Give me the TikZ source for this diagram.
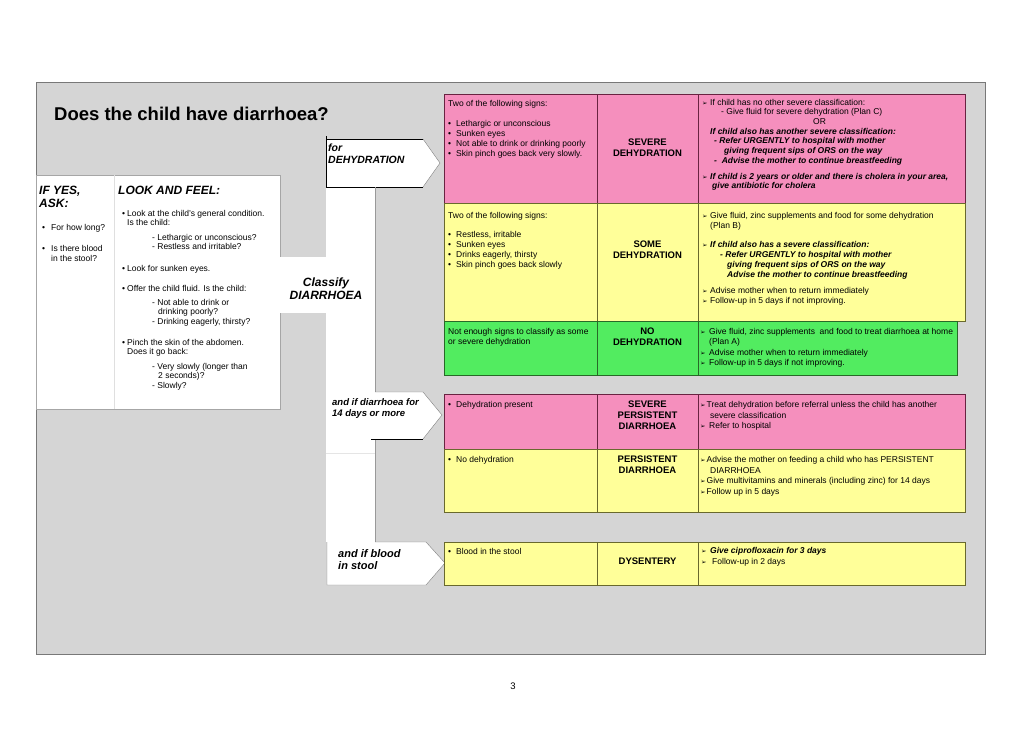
\documentclass[tikz,border=0pt]{standalone}
\usepackage{fontspec}
\setmainfont{Liberation Sans}
\newfontfamily\dejavu{DejaVu Sans}
\usepackage{tikz}
\definecolor{imci-grey}{RGB}{213,213,213}
\definecolor{imci-frame}{RGB}{120,120,120}
\definecolor{imci-pink}{RGB}{245,143,189}
\definecolor{imci-pinkline}{RGB}{105,35,65}
\definecolor{imci-yellow}{RGB}{255,255,153}
\definecolor{imci-yellowline}{RGB}{105,105,45}
\definecolor{imci-green}{RGB}{82,236,96}
\definecolor{imci-greenline}{RGB}{40,105,40}
\newcommand{\blt}[1][8pt]{\makebox[#1][l]{•}}
\newcommand{\tarr}[1][8pt]{\makebox[#1][l]{\dejavu\fontsize{6.5}{7}\selectfont ➢}}
\newcommand{\bfit}[1]{\textbf{\textit{#1}}}

\begin{document}
\begin{tikzpicture}[x=1pt,y=-1pt,
    cell/.style={anchor=north west,inner sep=0pt,align=left,font=\fontsize{8.5}{10}\selectfont},
    cls/.style={anchor=north,inner sep=0pt,align=center,font=\fontsize{9.5}{10.5}\selectfont\bfseries},
    tag/.style={anchor=north west,inner sep=0pt,align=left},
    pinkrow/.style={fill=imci-pink,draw=imci-pinkline,line width=0.8pt},
    yellowrow/.style={fill=imci-yellow,draw=imci-yellowline,line width=0.8pt},
    greenrow/.style={fill=imci-green,draw=imci-greenline,line width=0.8pt}]
    \fill[white] (0,0) rectangle (1030,728);
    \useasboundingbox (0,0) rectangle (1030,728);

    % grey panel and the assess box
    \filldraw[fill=imci-grey,draw=imci-frame,line width=0.8pt] (36,82) rectangle (985,654);
    \filldraw[fill=white,draw=gray!70] (36,175) rectangle (280,409);
    \draw[gray!25] (114,175) -- (114,409);

    % white band with the arrow boxes
    \fill[white] (326,187) rectangle (375,542);
    \fill[white] (280,257) rectangle (326,313);
    \fill[white] (326,139) -- (423,139) -- (440,163) -- (423,187) -- (326,187) -- cycle;
    \draw (326,187) -- (326,136);
    \draw (326,139) -- (423,139);
    \draw (326,187) -- (423,187);
    \draw[gray] (423,139) -- (440,163) -- (423,187);
    \draw[gray!80] (375,187) -- (375,392);
    \draw[gray!80] (375,439) -- (375,542);
    \fill[white] (326,392) -- (423,392) -- (442,415) -- (423,439) -- (326,439) -- cycle;
    \draw[gray] (375,392) -- (423,392) -- (442,415) -- (423,439);
    \draw (371,439) -- (423,439);
    \draw[gray!20] (326,453) -- (375,453);
    \fill[white] (327,542) -- (426,542) -- (445,563) -- (426,585) -- (327,585) -- cycle;
    \draw[gray] (375,542) -- (426,542) -- (445,563) -- (426,585) -- (327,585) -- (327,542);

    % classification rows
    \draw[pinkrow] (444,94) rectangle (965,203);
    \draw[imci-pinkline,line width=0.8pt] (597,94) -- (597,203) (698,94) -- (698,203);
    \draw[yellowrow] (444,203) rectangle (965,321);
    \draw[imci-yellowline,line width=0.8pt] (597,203) -- (597,321) (698,203) -- (698,321);
    \draw[greenrow] (444,321) rectangle (957,375);
    \draw[imci-greenline,line width=0.8pt] (597,321) -- (597,375) (698,321) -- (698,375);
    \draw[pinkrow] (444,394) rectangle (965,449);
    \draw[imci-pinkline,line width=0.8pt] (597,394) -- (597,449) (698,394) -- (698,449);
    \draw[yellowrow] (444,449) rectangle (965,512);
    \draw[imci-yellowline,line width=0.8pt] (597,449) -- (597,512) (698,449) -- (698,512);
    \draw[yellowrow] (444,542) rectangle (965,585);
    \draw[imci-yellowline,line width=0.8pt] (597,542) -- (597,585) (698,542) -- (698,585);

    % headings
    \node[anchor=base west,inner sep=0pt,font=\fontsize{18.5}{20}\selectfont\bfseries] (title) at (54,120) {Does the child have diarrhoea?};
    \node[tag,font=\fontsize{12}{11.5}\selectfont\bfseries\itshape] (ifyes) at (39,186) {\strut IF YES,\\ASK:};
    \node[tag,font=\fontsize{12}{11.5}\selectfont\bfseries\itshape] (lookfeel) at (118,186) {\strut LOOK AND FEEL:};
    \node[tag,font=\fontsize{8.5}{9.5}\selectfont] (ask) at (42,223.5) {\strut\blt[9pt]For how long?\\[12pt]
        \blt[9pt]Is there blood\\
        \hspace*{9pt}in the stool?};
    \node[tag,font=\fontsize{8.5}{9.5}\selectfont] (look) at (122,209.5) {\strut\blt[5pt]Look at the child's general condition.\\
        \hspace*{5pt}Is the child:\\[5pt]
        \hspace*{30pt}- Lethargic or unconscious?\\
        \hspace*{30pt}- Restless and irritable?\\[12pt]
        \blt[5pt]Look for sunken eyes.\\[10.5pt]
        \blt[5pt]Offer the child fluid. Is the child:\\[4.5pt]
        \hspace*{30pt}- Not able to drink or\\
        \hspace*{36pt}drinking poorly?\\
        \hspace*{30pt}- Drinking eagerly, thirsty?\\[11.5pt]
        \blt[5pt]Pinch the skin of the abdomen.\\
        \hspace*{5pt}Does it go back:\\[5pt]
        \hspace*{30pt}- Very slowly (longer than\\
        \hspace*{36pt}2 seconds)?\\
        \hspace*{30pt}- Slowly?};

    \node[tag,font=\fontsize{10.5}{12}\selectfont\bfseries\itshape] (fordehyd) at (328,142.6) {\strut for\\DEHYDRATION};
    \node[anchor=north,inner sep=0pt,align=center,font=\fontsize{12}{13}\selectfont\bfseries\itshape] (classify) at (326,276.9) {\strut Classify\\DIARRHOEA};
    \node[tag,font=\fontsize{9.5}{11.5}\selectfont\bfseries\itshape] (fourteen) at (332,397) {\strut and if diarrhoea for\\14 days or more};
    \node[tag,font=\fontsize{11}{12}\selectfont\bfseries\itshape] (blood) at (338,548.6) {\strut and if blood\\in stool};

    % severe dehydration
    \node[cell] (sdsigns) at (448,99) {\strut Two of the following signs:\\[10pt]
        \blt Lethargic or unconscious\\
        \blt Sunken eyes\\
        \blt Not able to drink or drinking poorly\\
        \blt Skin pinch goes back very slowly.};
    \node[cls] (sdclass) at (647.5,138) {\strut SEVERE\\DEHYDRATION};
    \node[cell,font=\fontsize{8.5}{9.7}\selectfont] (sdtreat) at (702,98.2) {\strut\tarr If child has no other severe classification:\\
        \hspace*{19pt}- Give fluid for severe dehydration (Plan C)\\
        \hspace*{111pt}OR\\
        \hspace*{8pt}\bfit{If child also has another severe classification:}\\
        \hspace*{12pt}\bfit{- Refer URGENTLY to hospital with mother}\\
        \hspace*{22pt}\bfit{giving frequent sips of ORS on the way}\\
        \hspace*{12pt}\bfit{-\ \ Advise the mother to continue breastfeeding}\\[6pt]
        \tarr\bfit{If child is 2 years or older and there is cholera in your area,}\\
        \hspace*{10pt}\bfit{give antibiotic for cholera}};

    % some dehydration
    \node[cell] (sosigns) at (448,211) {\strut Two of the following signs:\\[9pt]
        \blt Restless, irritable\\
        \blt Sunken eyes\\
        \blt Drinks eagerly, thirsty\\
        \blt Skin pinch goes back slowly};
    \node[cls] (soclass) at (647.5,240) {\strut SOME\\DEHYDRATION};
    \node[cell] (sotreat) at (702,211) {\strut\tarr Give fluid, zinc supplements and food for some dehydration\\
        \hspace*{8pt}(Plan B)\\[9pt]
        \tarr\bfit{If child also has a severe classification:}\\
        \hspace*{18pt}\bfit{- Refer URGENTLY to hospital with mother}\\
        \hspace*{25pt}\bfit{giving frequent sips of ORS on the way}\\
        \hspace*{25pt}\bfit{Advise the mother to continue breastfeeding}\\[6pt]
        \tarr Advise mother when to return immediately\\
        \tarr Follow-up in 5 days if not improving.};

    % no dehydration
    \node[cell] (nosigns) at (448,327) {\strut Not enough signs to classify as some\\or severe dehydration};
    \node[cls] (noclass) at (647.5,327) {\strut NO\\DEHYDRATION};
    \node[cell,font=\fontsize{8.5}{10.3}\selectfont] (notreat) at (700,327) {\strut\tarr[9pt]Give fluid, zinc supplements\ \ and food to treat diarrhoea at home\\
        \hspace*{9pt}(Plan A)\\
        \tarr[9pt]Advise mother when to return immediately\\
        \tarr[9pt]Follow-up in 5 days if not improving.};

    % severe persistent diarrhoea
    \node[cell] (spsigns) at (448,400) {\strut\blt Dehydration present};
    \node[cls,font=\fontsize{9.5}{11}\selectfont\bfseries] (spclass) at (647.5,399.7) {\strut SEVERE\\PERSISTENT\\DIARRHOEA};
    \node[cell,font=\fontsize{8.5}{10.5}\selectfont] (sptreat) at (700,400) {\strut\tarr[6.5pt]Treat dehydration before referral unless the child has another\\
        \hspace*{10pt}severe classification\\
        \tarr[9pt]Refer to hospital};

    % persistent diarrhoea
    \node[cell] (pdsigns) at (448,455) {\strut\blt No dehydration};
    \node[cls,font=\fontsize{9.5}{11}\selectfont\bfseries] (pdclass) at (647.5,454.7) {\strut PERSISTENT\\DIARRHOEA};
    \node[cell,font=\fontsize{8.5}{10.6}\selectfont] (pdtreat) at (700,455) {\strut\tarr[6.5pt]Advise the mother on feeding a child who has PERSISTENT\\
        \hspace*{10pt}DIARRHOEA\\
        \tarr[6.5pt]Give multivitamins and minerals (including zinc) for 14 days\\
        \tarr[6.5pt]Follow up in 5 days};

    % dysentery
    \node[cell] (dysigns) at (448,547) {\strut\blt Blood in the stool};
    \node[cls] (dyclass) at (647.5,557) {\strut DYSENTERY};
    \node[cell,font=\fontsize{8.5}{11}\selectfont] (dytreat) at (701,546) {\strut\tarr[9pt]\bfit{Give ciprofloxacin for 3 days}\\
        \tarr[11pt]Follow-up in 2 days};

    \node[font=\fontsize{9.5}{11}\selectfont] (pagenum) at (513,686) {3};
\end{tikzpicture}
\end{document}
